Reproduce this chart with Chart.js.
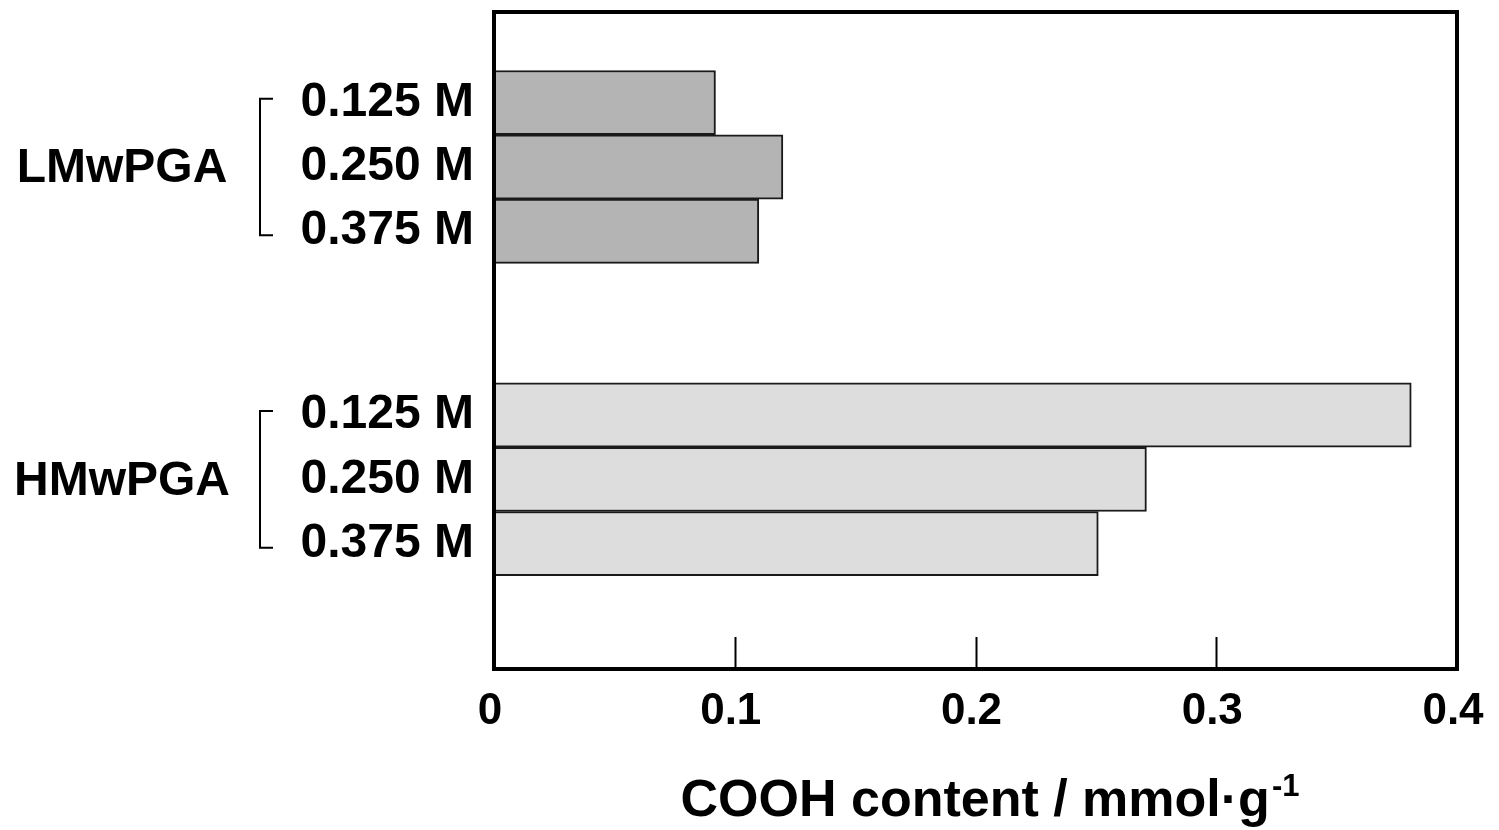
<!DOCTYPE html>
<html>
<head>
<meta charset="utf-8">
<script src="https://cdn.jsdelivr.net/npm/chart.js@4.4.1/dist/chart.umd.min.js"></script>
<style>
  html, body { margin: 0; padding: 0; background: #fff; }
  #wrap { width: 1499px; height: 830px; }
</style>
</head>
<body>
<div id="wrap"><canvas id="chart"></canvas></div>
<script>
const groups = ['LMwPGA', 'HMwPGA'];
const concentrations = ['0.125 M', '0.250 M', '0.375 M'];
const lmwValues = [0.092, 0.120, 0.110];
const hmwValues = [0.381, 0.271, 0.251];
const xTicks = [0, 0.1, 0.2, 0.3, 0.4];
const axisTitle = 'COOH content / mmol·g';
const axisTitleSup = '-1';

// where each row sits on the reversed y scale (one unit = one bar)
const rowPos = [[1.41, 2.41, 3.41], [6.27, 7.27, 8.27]];
const yMax = 10.22;

const FONT = "'Liberation Sans', Arial, Helvetica, sans-serif";

const framePlugin = {
    id: 'frame',
    afterDraw(chart) {
        const ctx = chart.ctx;
        const area = chart.chartArea;
        const x = chart.scales.x;
        const y = chart.scales.y;
        ctx.save();
        ctx.strokeStyle = '#000';

        // inward ticks on the bottom axis
        ctx.lineWidth = 2;
        xTicks.slice(1, -1).forEach(v => {
            const px = Math.round(x.getPixelForValue(v)) + 0.5;
            ctx.beginPath();
            ctx.moveTo(px, area.bottom);
            ctx.lineTo(px, area.bottom - 32);
            ctx.stroke();
        });

        // box around the plot
        ctx.lineWidth = 4;
        ctx.strokeRect(area.left, area.top, area.right - area.left, area.bottom - area.top);

        // group labels and brackets
        ctx.fillStyle = '#000';
        ctx.font = 'bold 48px ' + FONT;
        ctx.textAlign = 'center';
        ctx.textBaseline = 'middle';
        ctx.lineWidth = 2;
        groups.forEach((g, i) => {
            const top = y.getPixelForValue(rowPos[i][0]);
            const mid = y.getPixelForValue(rowPos[i][1]);
            const bot = y.getPixelForValue(rowPos[i][2]);
            ctx.fillText(g, 122, mid + 2);
            ctx.beginPath();
            ctx.moveTo(273, top - 4);
            ctx.lineTo(260, top - 4);
            ctx.lineTo(260, bot + 4);
            ctx.lineTo(273, bot + 4);
            ctx.stroke();
        });

        // axis title with superscript
        ctx.textAlign = 'left';
        ctx.textBaseline = 'alphabetic';
        ctx.font = 'bold 52px ' + FONT;
        const w1 = ctx.measureText(axisTitle).width;
        ctx.font = 'bold 31px ' + FONT;
        const w2 = ctx.measureText(axisTitleSup).width;
        const start = 990 - (w1 + w2 + 2) / 2;
        ctx.font = 'bold 52px ' + FONT;
        ctx.fillText(axisTitle, start, 816);
        ctx.font = 'bold 31px ' + FONT;
        ctx.fillText(axisTitleSup, start + w1 + 2, 796);
        ctx.restore();
    }
};

function rows(values, g) {
    return values.map((v, i) => ({ x: v, y: rowPos[g][i] }));
}

const ctx = document.getElementById('chart').getContext('2d');
new Chart(ctx, {
    type: 'bar',
    data: {
        datasets: [{
            label: groups[0],
            data: rows(lmwValues, 0),
            backgroundColor: '#b4b4b4',
            borderColor: '#1a1a1a',
            borderWidth: 2,
            grouped: false,
            barPercentage: 1,
            categoryPercentage: 1
        }, {
            label: groups[1],
            data: rows(hmwValues, 1),
            backgroundColor: '#dddddd',
            borderColor: '#1a1a1a',
            borderWidth: 2,
            grouped: false,
            barPercentage: 1,
            categoryPercentage: 1
        }]
    },
    options: {
        indexAxis: 'y',
        responsive: true,
        maintainAspectRatio: false,
        animation: false,
        layout: { padding: { left: 0, right: 42, top: 12, bottom: 0 } },
        plugins: {
            legend: { display: false },
            tooltip: { enabled: false }
        },
        scales: {
            x: {
                type: 'linear',
                min: 0,
                max: 0.4,
                afterBuildTicks: scale => { scale.ticks = xTicks.map(v => ({ value: v })); },
                afterFit: scale => {
                    scale.height = 161;
                    scale.paddingLeft = 0;
                    scale.paddingRight = 0;
                },
                grid: { display: false, drawTicks: false },
                border: { display: false },
                ticks: {
                    color: '#000',
                    padding: 16,
                    labelOffset: -4,
                    maxRotation: 0,
                    font: { family: FONT, size: 44, weight: 'bold' },
                    callback: v => v === 0 ? '0' : v.toFixed(1)
                }
            },
            y: {
                type: 'linear',
                reverse: true,
                offset: false,
                min: 0,
                max: yMax,
                afterBuildTicks: scale => {
                    scale.ticks = rowPos.flat().map(v => ({ value: v }));
                },
                afterFit: scale => {
                    scale.width = 494;
                    scale.paddingTop = 0;
                    scale.paddingBottom = 0;
                },
                grid: { display: false, drawTicks: false },
                border: { display: false },
                ticks: {
                    autoSkip: false,
                    color: '#000',
                    padding: 20,
                    font: { family: FONT, size: 48, weight: 'bold' },
                    callback: (v, i) => concentrations[i % concentrations.length]
                }
            }
        }
    },
    plugins: [framePlugin]
});
</script>
</body>
</html>
